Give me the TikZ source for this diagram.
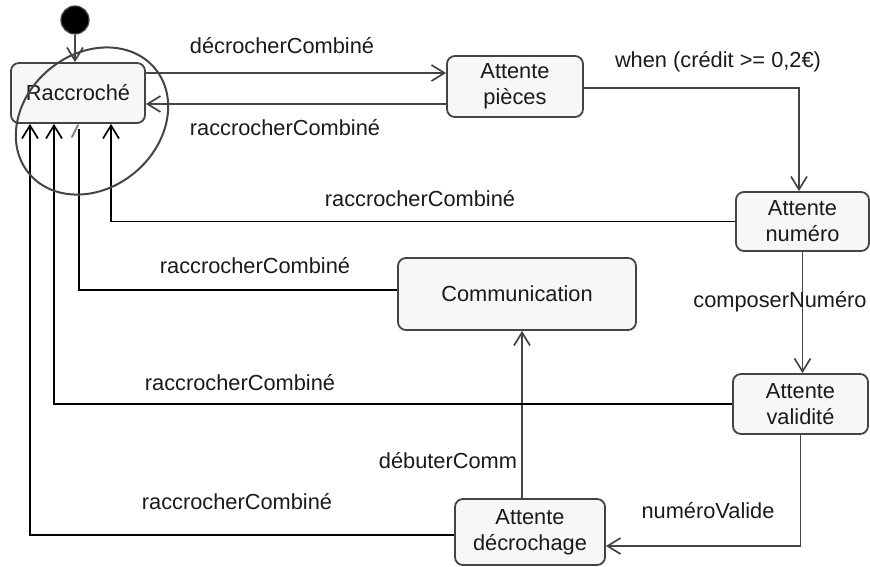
\documentclass[tikz,border=0pt]{standalone}
\usepackage{fontspec}
\setmainfont{Liberation Sans}
\usetikzlibrary{arrows.meta,calc}
\definecolor{boxfill}{HTML}{F7F7F7}
\definecolor{boxline}{HTML}{444444}
\definecolor{txt}{HTML}{1A1A1A}
\begin{document}
\begin{tikzpicture}[x=1pt,y=-1pt,
  statebox/.style={draw=boxline,fill=boxfill,line width=1.8pt,rounded corners=8pt,
    align=center,inner sep=0pt,font=\fontsize{21.8}{26}\selectfont,text=txt},
  lbl/.style={font=\fontsize{21.8}{26}\selectfont,text=txt,inner sep=0pt},
  conn/.style={line width=1.8pt,draw=black},
  conng/.style={line width=1.9pt,draw=boxline},
  arr/.style={-{Straight Barb[length=13pt,width=16pt,line width=1.7pt]}}]
\useasboundingbox (0,0) rectangle (870,566);
% states
\node[statebox,minimum width=134pt,minimum height=60pt] (rac) at (78,93) {Raccroché};
\node[statebox,minimum width=136pt,minimum height=61pt] (pieces) at (515,86.5) {Attente\\pièces};
\node[statebox,minimum width=133pt,minimum height=59pt] (numero) at (802.5,221.5) {Attente\\numéro};
\node[statebox,minimum width=135pt,minimum height=60pt] (validite) at (800.5,404) {Attente\\validité};
\node[statebox,minimum width=238pt,minimum height=72pt] (comm) at (517,294) {Communication};
\node[statebox,minimum width=150pt,minimum height=66pt] (decroch) at (530,532) {Attente\\décrochage};
% initial state
\node[circle,fill=black,draw=boxline,line width=1.2pt,minimum size=28pt,inner sep=0pt] (init) at (75,20) {};
\draw[conng,arr] (init.south) -- (init.south |- rac.north);
% top transitions
\draw[conng,arr] (rac.east |- 0,73) -- (pieces.west |- 0,73);
\draw[conng,arr] (pieces.west |- 0,104) -- (rac.east |- 0,104);
\draw[conng,arr] (pieces.east |- 0,88) -| ([xshift=-3.5pt]numero.north);
\draw[conng,arr] (numero.south) -- (numero.south |- validite.north);
\draw[conng,arr] (validite.south) |- ([yshift=-14pt]decroch.east);
\draw[conng,arr] ([xshift=-8pt]decroch.north) -- ([xshift=-8pt]decroch.north |- comm.south);
% returns to Raccroché
\draw[conn,arr] (numero.west) -| ([xshift=33pt]rac.south);
\draw[conn] (comm.west |- 0,290) -| ([xshift=1pt,yshift=-5pt]rac.south);
\draw[conn,arr] (validite.west) -| ([xshift=-24pt]rac.south);
\draw[conn,arr] ([yshift=-3pt]decroch.west) -| ([xshift=-48pt]rac.south);
\draw[line width=1.8pt,draw=gray,line cap=round] (72,137) -- (78,125);
% annotation ellipse
\draw[line width=2pt,draw=boxline,rotate around={40:(92,121)}] (92,121) ellipse [x radius=82pt,y radius=67pt];
% labels
\node[lbl] (l1) at (282,46) {décrocherCombiné};
\node[lbl] (l2) at (285,128) {raccrocherCombiné};
\node[lbl] (l3) at (718,62) {when (crédit >= 0,2€)};
\node[lbl] (l4) at (420,199) {raccrocherCombiné};
\node[lbl] (l5) at (255,266) {raccrocherCombiné};
\node[lbl] (l6) at (780,302) {composerNuméro};
\node[lbl] (l7) at (240,383) {raccrocherCombiné};
\node[lbl] (l8) at (448,461) {débuterComm};
\node[lbl] (l9) at (237,502) {raccrocherCombiné};
\node[lbl] (l10) at (708,511) {numéroValide};
\end{tikzpicture}
\end{document}
